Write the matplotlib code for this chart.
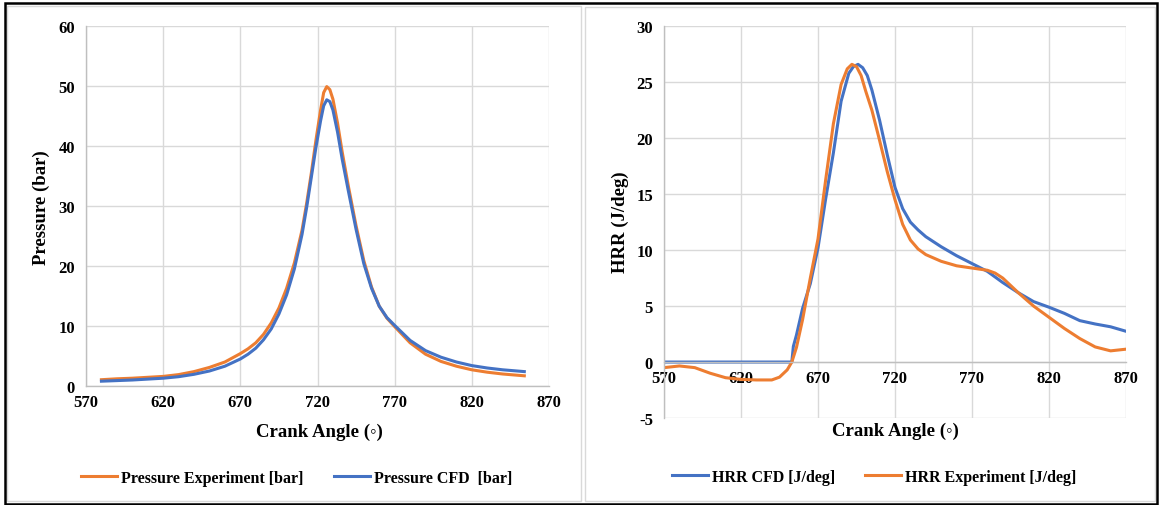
import matplotlib
matplotlib.use("Agg")
import matplotlib.pyplot as plt
from matplotlib.patches import Rectangle

plt.rcParams['font.family'] = ['Liberation Serif', 'DejaVu Serif', 'DejaVu Sans']
plt.rcParams['font.weight'] = 'bold'
plt.rcParams['axes.unicode_minus'] = False

BLUE = '#4472C4'
ORANGE = '#ED7D31'
GRID = '#D9D9D9'
AXIS = '#BFBFBF'

# in-cylinder pressure (bar) vs crank angle
pres_angle = [580, 590, 600, 610, 620, 630, 640, 650, 660, 670, 675, 680, 685, 690,
              695, 700, 705, 710, 713, 716, 719, 722, 724, 726, 728, 730, 733, 736,
              740, 745, 750, 755, 760, 765, 770, 780, 790, 800, 810, 820, 830, 840, 854]
pres_exp = [1.05, 1.2, 1.3, 1.45, 1.6, 1.9, 2.4, 3.1, 4.0, 5.4, 6.2, 7.2, 8.6, 10.5,
            13.0, 16.3, 20.5, 26.0, 30.5, 35.5, 41.0, 46.0, 48.9, 49.9, 49.4, 47.8, 43.8, 39.0,
            33.3, 26.7, 20.9, 16.5, 13.3, 11.3, 9.9, 7.2, 5.3, 4.1, 3.3, 2.7, 2.3, 2.0, 1.7]
pres_cfd = [0.8, 0.9, 1.0, 1.15, 1.3, 1.55, 1.95, 2.5, 3.3, 4.5, 5.3, 6.3, 7.7, 9.5,
            12.0, 15.2, 19.5, 25.3, 29.8, 34.8, 39.8, 44.2, 46.7, 47.7, 47.4, 46.0, 42.3, 37.8,
            32.5, 26.1, 20.4, 16.3, 13.3, 11.4, 10.1, 7.6, 5.9, 4.8, 4.0, 3.4, 3.0, 2.7, 2.4]

# heat release rate (J/deg)
hrr_cfd_angle = [570, 600, 630, 653, 654, 656, 660, 665, 670, 675, 680, 685, 690, 693,
                 696, 699, 702, 705, 710, 715, 720, 725, 730, 735, 740, 750, 760, 770,
                 780, 790, 800, 810, 820, 830, 840, 850, 860, 870]
hrr_cfd = [0, 0, 0, 0, 1.4, 2.4, 4.8, 7.0, 10.2, 14.6, 18.7, 23.3, 25.8, 26.4,
           26.6, 26.3, 25.6, 24.3, 21.6, 18.5, 15.6, 13.7, 12.5, 11.8, 11.2, 10.3, 9.5, 8.8,
           8.1, 7.1, 6.2, 5.4, 4.9, 4.35, 3.7, 3.4, 3.15, 2.75]
hrr_exp_angle = [570, 580, 590, 600, 610, 620, 630, 640, 645, 650, 653, 656, 660, 665,
                 670, 675, 680, 685, 689, 692, 695, 698, 701, 705, 710, 715, 720, 725,
                 730, 735, 740, 750, 760, 770, 780, 785, 790, 800, 810, 820, 830, 840,
                 850, 860, 870]
hrr_exp = [-0.5, -0.35, -0.5, -1.0, -1.4, -1.55, -1.6, -1.6, -1.35, -0.7, 0.0, 1.3, 3.8, 7.5,
           11.0, 16.3, 21.3, 24.8, 26.2, 26.6, 26.4, 25.6, 24.2, 22.5, 19.8, 17.0, 14.5, 12.3,
           10.9, 10.1, 9.6, 9.0, 8.6, 8.4, 8.2, 7.95, 7.5, 6.2, 5.0, 4.0, 3.0, 2.1,
           1.35, 1.0, 1.15]

x_ticks = [570, 620, 670, 720, 770, 820, 870]

W, H = 1160, 506
fig = plt.figure(figsize=(W / 100, H / 100), dpi=100)


def fx(px):
    return px / W


def fy(py):
    return 1 - py / H


def style_axes(ax, ylim, ystep):
    ax.set_xlim(570, 870)
    ax.set_ylim(*ylim)
    ax.set_xticks(x_ticks)
    ax.set_yticks(range(ylim[0], ylim[1] + 1, ystep))
    ax.grid(True, color=GRID, linewidth=1.0)
    ax.set_axisbelow(True)
    for s in ['top', 'right']:
        ax.spines[s].set_visible(False)
    for s in ['left', 'bottom']:
        ax.spines[s].set_color(AXIS)
        ax.spines[s].set_linewidth(1.0)
    ax.tick_params(length=0, labelsize=12)
    ax.tick_params(axis='y', pad=8)
    ax.tick_params(axis='x', pad=6)
    for lab in ax.get_xticklabels() + ax.get_yticklabels():
        lab.set_fontweight('bold')


# pressure panel
ax1 = fig.add_axes([fx(86), fy(387), fx(549 - 86), (387 - 27) / H])
style_axes(ax1, (0, 60), 10)
ax1.plot(pres_angle, pres_exp, color=ORANGE, lw=2.2, label='Pressure Experiment [bar]')
ax1.plot(pres_angle, pres_cfd, color=BLUE, lw=2.2, label='Pressure CFD  [bar]')

# heat release panel
ax2 = fig.add_axes([fx(664), fy(419), fx(1126 - 664), (419 - 27.3) / H])
style_axes(ax2, (-5, 30), 5)
ax2.spines['bottom'].set_position(('data', 0))
ax2.plot(hrr_cfd_angle, hrr_cfd, color=BLUE, lw=2.2, label='HRR CFD [J/deg]')
ax2.plot(hrr_exp_angle, hrr_exp, color=ORANGE, lw=2.2, label='HRR Experiment [J/deg]')

# axis titles
lbl = dict(fontsize=13.5, fontweight='bold', ha='center', va='center')
fig.text(fx(319), fy(432), 'Crank Angle (\u25e6)', **lbl)
fig.text(fx(895), fy(431), 'Crank Angle (\u25e6)', **lbl)
fig.text(fx(41), fy(208), 'Pressure (bar)', rotation=90, **lbl)
fig.text(fx(620), fy(222), 'HRR (J/deg)', rotation=90, **lbl)

leg_kw = dict(loc='center', ncol=2, frameon=False, handlelength=2.25,
              handletextpad=0.25, columnspacing=1.9,
              prop={'size': 11.5, 'weight': 'bold'})
ax1.legend(bbox_to_anchor=(fx(297), fy(479)), bbox_transform=fig.transFigure, **leg_kw)
ax2.legend(bbox_to_anchor=(fx(874), fy(478)), bbox_transform=fig.transFigure, **leg_kw)

# chart frames
fig.patches.append(Rectangle((fx(7), fy(502)), fx(581 - 7), (502 - 7) / H,
                             transform=fig.transFigure, fill=False, ec=GRID, lw=1.0))
fig.patches.append(Rectangle((fx(585), fy(502)), fx(1155 - 585), (502 - 8) / H,
                             transform=fig.transFigure, fill=False, ec=GRID, lw=1.0))
fig.patches.append(Rectangle((fx(5), fy(505)), fx(1157 - 5), (505 - 4) / H,
                             transform=fig.transFigure, fill=False, ec='black', lw=1.8))

fig.savefig('out.png', dpi=100)
